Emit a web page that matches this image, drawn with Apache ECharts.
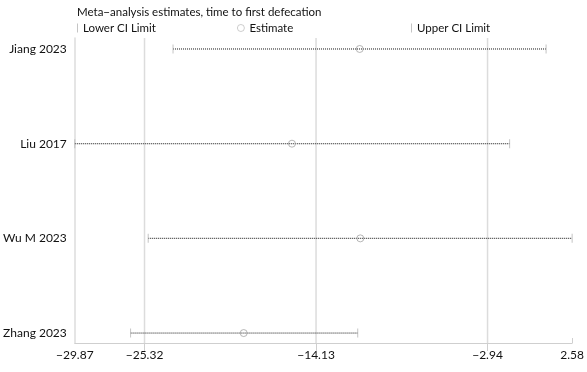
<!DOCTYPE html>
<html>
<head>
<meta charset="utf-8">
<script src="https://cdn.jsdelivr.net/npm/echarts@6/dist/echarts.min.js"></script>
<style>html,body{margin:0;padding:0;background:#fff}#c{width:587px;height:372px}</style>
</head>
<body>
<div id="c"></div>
<script>
var studies = ['Jiang 2023', 'Liu 2017', 'Wu M 2023', 'Zhang 2023'];
var lowerCI = [-23.46, -29.87, -25.08, -26.23];
var estimate = [-11.28, -15.70, -11.24, -18.85];
var upperCI = [0.88, -1.50, 2.58, -11.41];
var xTicks = [-29.87, -25.32, -14.13, -2.94, 2.58];
var gridTicks = [-25.32, -14.13, -2.94];
var xMin = -29.87, xMax = 2.58;

var FONT = 'Lato';
var n = studies.length;
function rowPos(i) { return n - i; }

var ciData = studies.map(function (s, i) { return [lowerCI[i], upperCI[i], rowPos(i)]; });
var loData = studies.map(function (s, i) { return [lowerCI[i], rowPos(i)]; });
var hiData = studies.map(function (s, i) { return [upperCI[i], rowPos(i)]; });
var estData = studies.map(function (s, i) { return [estimate[i], rowPos(i)]; });
var gridData = gridTicks.map(function (v) { return [v]; });

function fmt(v) { return v.toFixed(2).replace('-', '\u2212'); }

var chart = echarts.init(document.getElementById('c'), null, { renderer: 'canvas' });
var txt = { fontFamily: FONT, fontSize: 11.5, color: '#111' };
chart.setOption({
  animation: false,
  title: {
    text: 'Meta\u2212analysis estimates, time to first defecation',
    left: 72, top: 1,
    textStyle: { fontFamily: FONT, fontSize: 11.5, fontWeight: 'normal', color: '#111' }
  },
  legend: [
    { data: ['Lower CI Limit'], left: 77, top: 22, padding: 0, icon: 'rect', itemWidth: 1, itemHeight: 9, textStyle: txt },
    { data: ['Estimate'], left: 237, top: 22, padding: 0, itemWidth: 7, itemHeight: 7,
      itemStyle: { color: 'rgba(255,255,255,0)', borderColor: '#b0b0b0', borderWidth: 0.8 }, textStyle: txt },
    { data: ['Upper CI Limit'], left: 411, top: 22, padding: 0, icon: 'rect', itemWidth: 1, itemHeight: 9, textStyle: txt }
  ],
  grid: { left: 73.5, right: 11.7, top: 38, bottom: 29 },
  xAxis: [{
    type: 'value', min: xMin, max: xMax,
    axisLine: { show: true, onZero: false, lineStyle: { color: '#cfcfcf', width: 1 } },
    axisTick: { show: true, customValues: gridTicks, length: 8, lineStyle: { color: '#cfcfcf' } },
    axisLabel: { customValues: xTicks, formatter: fmt, margin: 6, fontFamily: FONT, fontSize: 12, color: '#111' },
    splitLine: { show: false }
  }, {
    type: 'value', min: xMin, max: xMax, position: 'bottom',
    axisLine: { show: false, onZero: false },
    axisTick: { show: true, inside: true, customValues: [xMax], length: 5, lineStyle: { color: '#cfcfcf' } },
    axisLabel: { show: false },
    splitLine: { show: false }
  }],
  yAxis: {
    type: 'value', min: 0.895, max: 4.116,
    axisLine: { show: true, onZero: false, lineStyle: { color: '#dcdcdc', width: 1.5 } },
    axisTick: { show: false },
    splitLine: { show: false },
    axisLabel: {
      customValues: [1, 2, 3, 4], margin: 8,
      formatter: function (v) { return studies[n - Math.round(v)]; },
      fontFamily: FONT, fontSize: 12, color: '#111'
    }
  },
  series: [
    {
      name: 'grid', type: 'custom', z: 0, silent: true,
      renderItem: function (params, api) {
        var cs = params.coordSys;
        var p = api.coord([api.value(0), 1]);
        return {
          type: 'line',
          shape: { x1: p[0], y1: cs.y, x2: p[0], y2: cs.y + cs.height },
          style: { stroke: '#dcdcdc', lineWidth: 1.5 }
        };
      },
      encode: { x: 0 },
      data: gridData
    },
    {
      name: 'ci', type: 'custom', z: 2, silent: true,
      renderItem: function (params, api) {
        var a = api.coord([api.value(0), api.value(2)]);
        var b = api.coord([api.value(1), api.value(2)]);
        return {
          type: 'line',
          shape: { x1: a[0], y1: a[1], x2: b[0], y2: b[1] },
          style: { stroke: '#3a3a3a', lineWidth: 1.2, lineDash: [1, 1] }
        };
      },
      encode: { x: [0, 1], y: 2 },
      data: ciData
    },
    {
      name: 'Lower CI Limit', type: 'scatter', z: 3, symbol: 'rect', symbolSize: [1, 9],
      itemStyle: { color: '#b5b5b5' }, data: loData
    },
    {
      name: 'Upper CI Limit', type: 'scatter', z: 3, symbol: 'rect', symbolSize: [1, 9],
      itemStyle: { color: '#b5b5b5' }, data: hiData
    },
    {
      name: 'Estimate', type: 'scatter', z: 4, symbol: 'circle', symbolSize: 7,
      itemStyle: { color: 'rgba(255,255,255,0)', borderColor: '#9a9a9a', borderWidth: 0.9 }, data: estData
    }
  ]
});
</script>
</body>
</html>
